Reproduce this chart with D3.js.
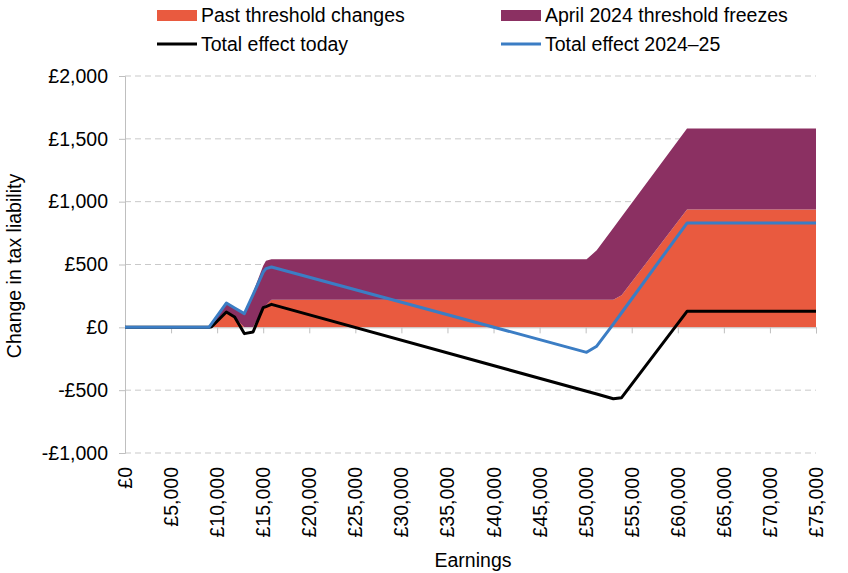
<!DOCTYPE html>
<html><head><meta charset="utf-8">
<script src="https://cdn.jsdelivr.net/npm/d3@7"></script>
<style>body{margin:0;background:#fff}text{font-family:"Liberation Sans",Arial,sans-serif;fill:#000}</style>
</head><body><svg id="c" width="848" height="573"></svg>
<script>
const earnings      = [0, 9100, 9400, 11000, 11900, 12950, 13900, 15000, 15300, 15900, 50100, 51200, 53000, 53900, 61000, 75000];
const pastChanges   = [0, 0, 0, 122, 82, 0, 0, 157, 175, 220, 220, 220, 220, 255, 937, 937];
const aprilFreezes  = [0, 0, 30, 78, 78, 109, 280, 333, 355, 321, 321, 393, 571, 625, 645, 645];
const totalToday    = [0, 0, 5, 122, 82, -50, -37, 157, 165, 183, -509, -531, -568, -560, 127, 127];
const total2024     = [0, 0, 30, 193, 154, 109, 260, 440, 467, 480, -199, -150, 26, 116, 830, 830];
const xTicks = d3.range(0, 75001, 5000);
const yTicks = [-1000, -500, 0, 500, 1000, 1500, 2000];
const seriesNames = ["Past threshold changes", "April 2024 threshold freezes", "Total effect today", "Total effect 2024\u201325"];
const colors = ["#E95A3F", "#8B3062", "#000000", "#3B7DC4"];

const FS = 19.5;
const svg = d3.select("#c");
const x = d3.scaleLinear().domain([0, 75000]).range([125, 816]);
const y = d3.scaleLinear().domain([-1000, 2000]).range([453, 76]);
const fmt = v => (v < 0 ? "-" : "") + "\u00a3" + d3.format(",")(Math.abs(v));

// grid
svg.append("g").selectAll("line").data(yTicks.filter(v => v !== 0)).join("line")
  .attr("x1", x(0)).attr("x2", x(75000)).attr("y1", d => y(d)).attr("y2", d => y(d))
  .attr("stroke", "#c9c9c9").attr("stroke-width", 1).attr("stroke-dasharray", "6,4");

const rows = earnings.map((e, i) => ({e, p: pastChanges[i], a: aprilFreezes[i], t: totalToday[i], b: total2024[i]}));
svg.append("path").datum(rows)
  .attr("d", d3.area().x(d => x(d.e)).y0(y(0)).y1(d => y(d.p)))
  .attr("fill", colors[0]);
svg.append("path").datum(rows)
  .attr("d", d3.area().x(d => x(d.e)).y0(d => y(d.p)).y1(d => y(d.p + d.a)))
  .attr("fill", colors[1]);

// y axis
const ya = svg.append("g").attr("transform", `translate(${x(0)},0)`)
  .call(d3.axisLeft(y).tickValues(yTicks).tickSize(6).tickPadding(11).tickFormat(fmt));
ya.select(".domain").attr("stroke", "#bfbfbf");
ya.selectAll(".tick line").attr("stroke", "#bfbfbf");
ya.selectAll("text").attr("font-size", FS).attr("font-family", "Liberation Sans, Arial, sans-serif").attr("fill", "#000");

// x axis at zero
const xa = svg.append("g").attr("transform", `translate(0,${y(0)})`)
  .call(d3.axisBottom(x).tickValues(xTicks).tickSize(6).tickFormat(""));
xa.select(".domain").attr("stroke", "#bfbfbf");
xa.selectAll(".tick line").attr("stroke", "#bfbfbf");
svg.append("g").selectAll("text").data(xTicks).join("text")
  .attr("transform", d => `translate(${x(d) + 7},${y(-1000) + 14}) rotate(-90)`)
  .attr("text-anchor", "end").attr("font-size", FS).text(fmt);

// lines
const line = key => d3.line().x(d => x(d.e)).y(d => y(d[key]));
svg.append("path").datum(rows).attr("d", line("t")).attr("fill", "none")
  .attr("stroke", colors[2]).attr("stroke-width", 3).attr("stroke-linejoin", "round");
svg.append("path").datum(rows).attr("d", line("b")).attr("fill", "none")
  .attr("stroke", colors[3]).attr("stroke-width", 3).attr("stroke-linejoin", "round");

// titles
svg.append("text").attr("transform", `translate(21,266) rotate(-90)`)
  .attr("text-anchor", "middle").attr("font-size", FS).text("Change in tax liability");
svg.append("text").attr("x", 473).attr("y", 567).attr("text-anchor", "middle")
  .attr("font-size", FS).text("Earnings");

// legend
const leg = [{n: 0, x: 157, y: 15, t: "rect"}, {n: 1, x: 501, y: 15, t: "rect"},
             {n: 2, x: 157, y: 44, t: "line"}, {n: 3, x: 501, y: 44, t: "line"}];
leg.forEach(l => {
  if (l.t === "rect") svg.append("rect").attr("x", l.x).attr("y", l.y - 5).attr("width", 40).attr("height", 11).attr("fill", colors[l.n]);
  else svg.append("line").attr("x1", l.x).attr("x2", l.x + 40).attr("y1", l.y).attr("y2", l.y).attr("stroke", colors[l.n]).attr("stroke-width", 3);
  svg.append("text").attr("x", l.x + 44).attr("y", l.y + 7).attr("font-size", FS).text(seriesNames[l.n]);
});
</script></body></html>
